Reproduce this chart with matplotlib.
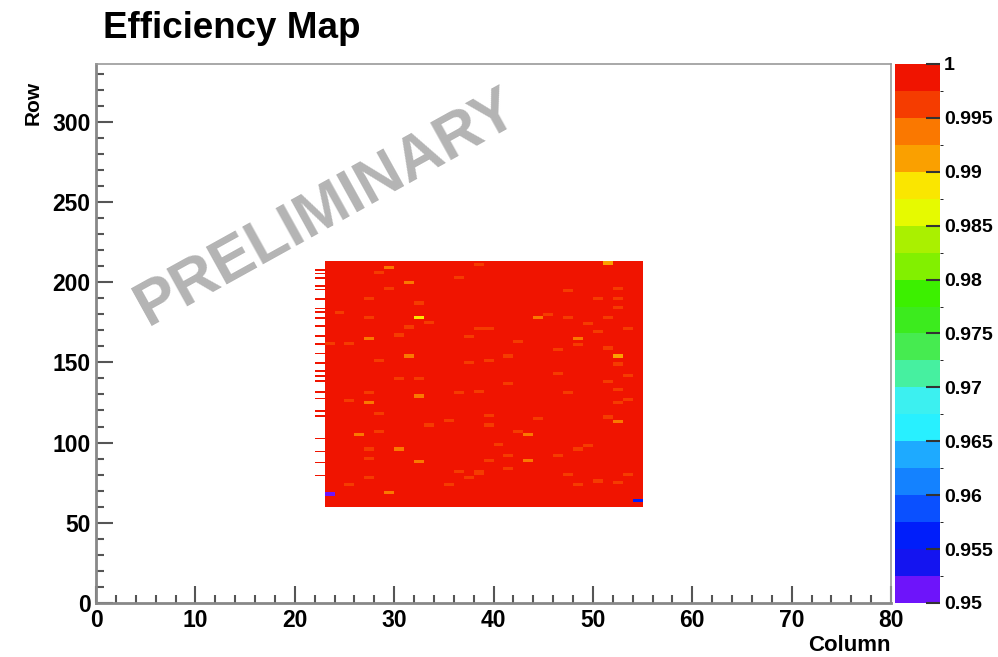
import numpy as np
import matplotlib.pyplot as plt
from matplotlib.colors import ListedColormap, BoundaryNorm
from matplotlib.ticker import MultipleLocator

plt.rcParams['font.family'] = ['Liberation Sans', 'DejaVu Sans']
plt.rcParams['font.weight'] = 'bold'

# FE-I4 geometry: 80 columns x 336 rows
ncol, nrow = 80, 336

# illuminated area (all pixels fully efficient unless listed below)
col_lo, col_hi = 23, 54
row_lo, row_hi = 60, 212

# pixels with lower efficiency: column, row, efficiency
low_cols = [29, 28, 31, 29, 27, 36, 32, 32, 33, 31, 38, 24, 27, 30, 27, 23, 25, 37, 31, 28,
            37, 32, 30, 47, 52, 50, 52, 52, 44, 45, 47, 51, 49, 50, 48, 48, 46, 42, 39, 53,
            51, 52, 39, 41, 52, 46, 41, 53, 51, 38, 27, 32, 25, 27, 36, 38, 28, 35, 33, 28,
            26, 30, 27, 32, 27, 36, 37, 38, 25, 27, 35, 29, 23, 51, 52, 53, 52, 47, 39, 44,
            39, 51, 52, 43, 42, 40, 48, 49, 46, 41, 43, 39, 41, 38, 47, 53, 48, 50, 52, 54]
low_rows = [208, 205, 199, 195, 189, 202, 186, 177, 174, 171, 170, 180, 177, 166, 164, 161, 161, 165, 153, 150,
            149, 139, 139, 194, 195, 189, 189, 183, 177, 179, 177, 177, 173, 168, 164, 160, 157, 162, 170, 170,
            158, 153, 150, 153, 148, 142, 136, 141, 211, 210, 130, 128, 125, 124, 130, 131, 117, 113, 110, 106,
            104, 95, 95, 87, 89, 81, 77, 81, 73, 77, 73, 68, 67, 137, 132, 126, 124, 130, 116, 114,
            110, 115, 112, 104, 106, 98, 95, 97, 91, 91, 88, 88, 83, 80, 79, 79, 73, 75, 74, 63]
low_vals = [0.993, 0.996, 0.993, 0.996, 0.996, 0.996, 0.996, 0.989, 0.996, 0.996, 0.996, 0.996, 0.996, 0.996, 0.993, 0.996, 0.996, 0.996, 0.993, 0.996,
            0.996, 0.996, 0.996, 0.996, 0.996, 0.996, 0.996, 0.996, 0.993, 0.996, 0.996, 0.996, 0.996, 0.996, 0.993, 0.996, 0.996, 0.996, 0.996, 0.996,
            0.996, 0.991, 0.996, 0.996, 0.996, 0.996, 0.996, 0.996, 0.991, 0.996, 0.996, 0.993, 0.996, 0.993, 0.996, 0.996, 0.996, 0.996, 0.996, 0.996,
            0.993, 0.993, 0.996, 0.993, 0.996, 0.996, 0.996, 0.996, 0.996, 0.996, 0.996, 0.993, 0.952, 0.996, 0.996, 0.996, 0.996, 0.996, 0.996, 0.996,
            0.996, 0.996, 0.993, 0.993, 0.996, 0.996, 0.996, 0.996, 0.996, 0.996, 0.993, 0.996, 0.996, 0.996, 0.996, 0.996, 0.996, 0.996, 0.996, 0.955]

# partially hit rows in the column left of the area
edge_col = 22
edge_rows = [207, 205, 202, 197, 195, 189, 183, 181, 177, 172, 166, 161, 155, 149, 144, 141,
             138, 131, 127, 119, 116, 102, 94, 87, 79]

# ROOT rainbow palette, 20 steps from 0.95 to 1
palette = ['#6e14fa', '#1414f0', '#001efa', '#0a50ff', '#1482ff', '#1eaaff', '#28f0ff', '#3cf0f0',
           '#46f0a0', '#46eb50', '#3ceb1e', '#3cf000', '#82f000', '#aaf000', '#e6fa00', '#fae600',
           '#faa000', '#fa7800', '#f53c00', '#f01400']
zmin, zmax = 0.95, 1.0
cbar_ticks = [0.95, 0.955, 0.96, 0.965, 0.97, 0.975, 0.98, 0.985, 0.99, 0.995, 1.0]

eff = np.full((nrow, ncol), np.nan)
eff[row_lo:row_hi + 1, col_lo:col_hi + 1] = 1.0
for r in edge_rows:
    eff[r, edge_col] = 1.0
# each defect shows up over two neighbouring rows
for c, r, v in zip(low_cols, low_rows, low_vals):
    eff[r, c] = v
    eff[r + 1, c] = v

cmap = ListedColormap(palette)
norm = BoundaryNorm(np.linspace(zmin, zmax, len(palette) + 1), cmap.N)

fig = plt.figure(figsize=(9.98, 6.57), dpi=100)
ax = fig.add_axes([0.0962, 0.0822, 0.7966, 0.8204])
cax = fig.add_axes([0.8968, 0.0822, 0.0451, 0.8204])

mesh = ax.pcolormesh(np.arange(ncol + 1), np.arange(nrow + 1), eff, cmap=cmap, norm=norm)
ax.set_xlim(0, ncol)
ax.set_ylim(0, nrow)

ax.xaxis.set_major_locator(MultipleLocator(10))
ax.xaxis.set_minor_locator(MultipleLocator(2))
ax.yaxis.set_major_locator(MultipleLocator(50))
ax.yaxis.set_minor_locator(MultipleLocator(10))
ax.tick_params(which='both', direction='in', top=False, right=False, color='#555555',
               labelsize=16.5, pad=4)
ax.tick_params(which='major', length=12, width=1.5)
ax.tick_params(which='minor', length=6, width=1.5)
for lab in ax.get_xticklabels() + ax.get_yticklabels():
    lab.set_fontweight('bold')
for side in ['left', 'bottom']:
    ax.spines[side].set_color('#888888')
    ax.spines[side].set_linewidth(2.0)
for side in ['top', 'right']:
    ax.spines[side].set_color('#999999')
    ax.spines[side].set_linewidth(1.2)

# colour scale
cb = fig.colorbar(mesh, cax=cax, ticks=cbar_ticks)
cb.outline.set_visible(False)
cax.tick_params(direction='in', length=10, width=1.5, color='#333333', labelsize=14, pad=3)
cax.set_yticklabels(['%g' % t for t in cbar_ticks], fontweight='bold')

fig.text(0.103, 0.957, 'Efficiency Map', fontsize=26.5, fontweight='bold', va='center', ha='left')
fig.text(0.033, 0.843, 'Row', rotation=90, fontsize=15, fontweight='bold', va='center', ha='center')
fig.text(0.892, 0.002, 'Column', fontsize=16, fontweight='bold', va='bottom', ha='right')

fig.text(0.328, 0.683, 'PRELIMINARY', rotation=29, fontsize=45, fontweight='bold',
         color='#b4b4b4', ha='center', va='center', rotation_mode='anchor')

fig.savefig('out.png', dpi=100)
